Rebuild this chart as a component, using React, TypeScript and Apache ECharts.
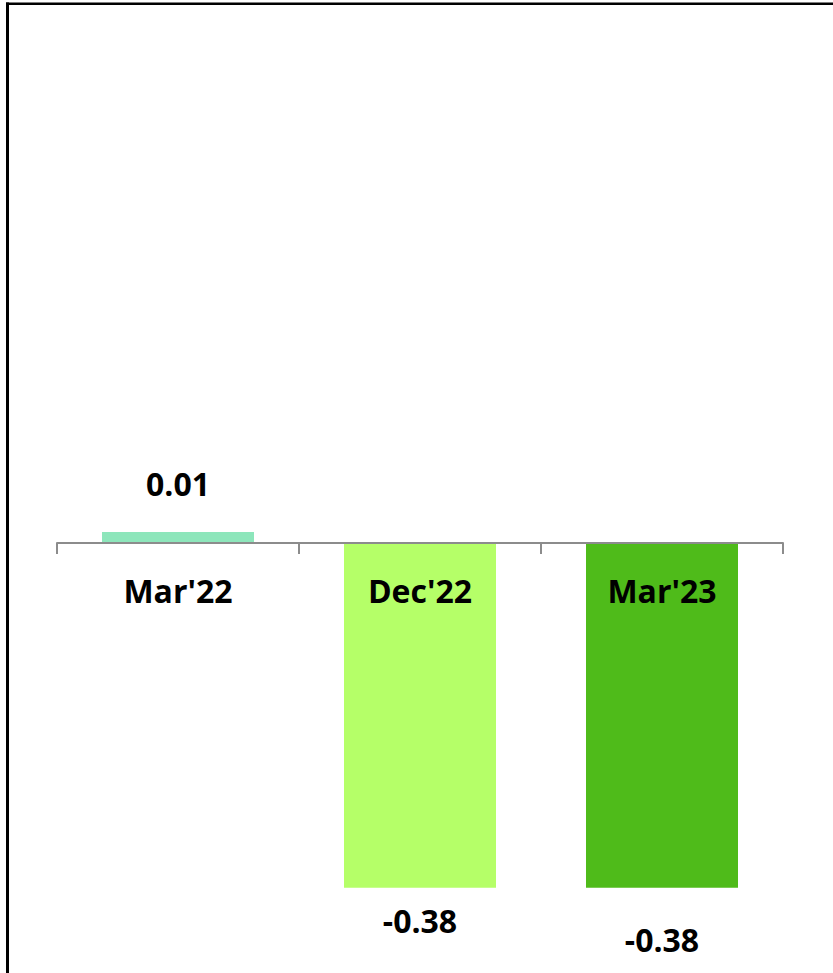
import React, { useEffect, useRef } from "react";
import * as echarts from "echarts";

const categories = ["Mar'22", "Dec'22", "Mar'23"];
const values = [0.012, -0.38, -0.38];
const valueLabels = ["0.01", "-0.38", "-0.38"];
const barColors = ["#8de6bb", "#b5ff68", "#4fbb1a"];
const labelDistances = [32, 17, 36];
const axisBase = [0, 0, 0];

export default function App() {
  const ref = useRef<HTMLDivElement>(null);
  useEffect(() => {
    if (!ref.current) return;
    const chart = echarts.init(ref.current, undefined, { renderer: "svg" });
    const font = "Open Sans";
    const textStyle = { color: "#000", fontFamily: font, fontWeight: "bold", fontSize: 32 };
    chart.setOption({
      animation: false,
      grid: { left: 57, right: 50, top: 89, bottom: 67, containLabel: false },
      xAxis: {
        type: "category",
        data: categories,
        z: 10,
        axisLine: { onZero: true, lineStyle: { color: "#8c8c8c", width: 2 } },
        axisTick: { show: true, length: 11, lineStyle: { color: "#8c8c8c", width: 2 } },
        axisLabel: { show: false },
      },
      yAxis: {
        type: "value",
        min: -0.4,
        max: 0.5,
        show: false,
        splitLine: { show: false },
      },
      series: [
        {
          type: "bar",
          barWidth: 152,
          data: values.map((v, i) => ({
            value: v,
            itemStyle: { color: barColors[i] },
            label: {
              show: true,
              position: "outside",
              distance: labelDistances[i],
              formatter: () => valueLabels[i],
              ...textStyle,
            },
          })),
        },
        {
          type: "scatter",
          symbolSize: 0,
          z: 20,
          silent: true,
          itemStyle: { color: "transparent", opacity: 1 },
          data: axisBase,
          label: {
            show: true,
            position: "bottom",
            distance: 32,
            formatter: "{b}",
            opacity: 1,
            ...textStyle,
          },
        },
      ],
      graphic: [
        { type: "rect", shape: { x: 6, y: 2.5, width: 827, height: 2.5 }, style: { fill: "#000" } },
        { type: "rect", shape: { x: 6, y: 2.5, width: 3, height: 971 }, style: { fill: "#000" } },
      ],
    });
    return () => chart.dispose();
  }, []);
  return (
    <div
      ref={ref}
      style={{ position: "absolute", left: 0, top: 0, width: 833, height: 973 }}
    />
  );
}
